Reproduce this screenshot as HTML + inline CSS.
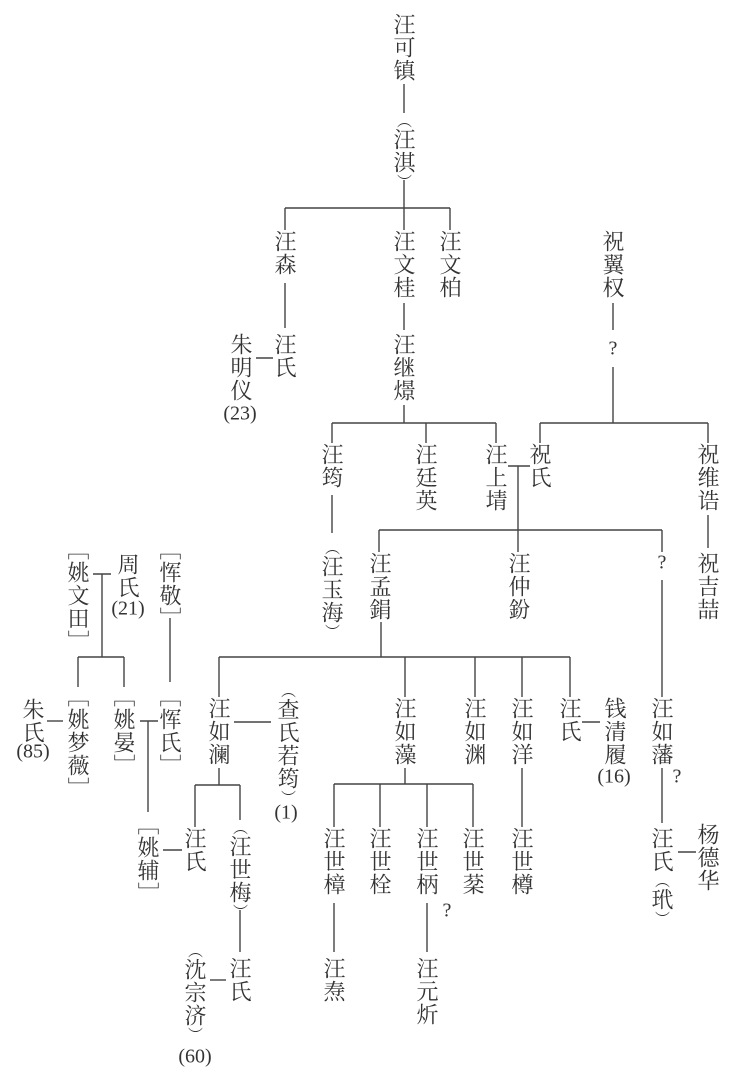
<!DOCTYPE html>
<html><head><meta charset="utf-8">
<style>
html,body{margin:0;padding:0;background:#fff;}
#c{position:relative;width:730px;height:1087px;overflow:hidden;background:#fff;}
.v{position:absolute;writing-mode:vertical-rl;font-family:"Noto Serif CJK SC","Noto Sans CJK SC",serif;font-size:22px;letter-spacing:1px;line-height:30px;width:30px;margin-left:-15px;color:#333;white-space:nowrap;}
.p{font-size:15px;letter-spacing:0;}
.h{position:absolute;font-family:"Liberation Serif",serif;font-size:20px;color:#333;transform:translate(-50%,-50%);white-space:nowrap;}
svg{position:absolute;left:0;top:0;}
</style></head><body><div id="c">
<svg width="730" height="1087" stroke="#444" stroke-width="1.4" fill="none">
<line x1="404" y1="84" x2="404" y2="113"/>
<line x1="404" y1="180" x2="404" y2="230"/>
<line x1="285" y1="208" x2="450" y2="208"/>
<line x1="285" y1="208" x2="285" y2="230"/>
<line x1="450" y1="208" x2="450" y2="230"/>
<line x1="285" y1="283" x2="285" y2="328"/>
<line x1="404" y1="303" x2="404" y2="330"/>
<line x1="256" y1="358" x2="273" y2="358"/>
<line x1="404" y1="405" x2="404" y2="423"/>
<line x1="332" y1="423" x2="496" y2="423"/>
<line x1="332" y1="423" x2="332" y2="443"/>
<line x1="426" y1="423" x2="426" y2="443"/>
<line x1="496" y1="423" x2="496" y2="443"/>
<line x1="613" y1="303" x2="613" y2="330"/>
<line x1="613" y1="367" x2="613" y2="423"/>
<line x1="540" y1="423" x2="708" y2="423"/>
<line x1="540" y1="423" x2="540" y2="443"/>
<line x1="708" y1="423" x2="708" y2="443"/>
<line x1="708" y1="515" x2="708" y2="548"/>
<line x1="508" y1="466" x2="530" y2="466"/>
<line x1="518" y1="466" x2="518" y2="552"/>
<line x1="379" y1="530" x2="662" y2="530"/>
<line x1="379" y1="530" x2="379" y2="552"/>
<line x1="662" y1="530" x2="662" y2="552"/>
<line x1="332" y1="495" x2="332" y2="533"/>
<line x1="662" y1="580" x2="662" y2="697"/>
<line x1="381" y1="622" x2="381" y2="657"/>
<line x1="219" y1="657" x2="570" y2="657"/>
<line x1="219" y1="657" x2="219" y2="697"/>
<line x1="405" y1="657" x2="405" y2="697"/>
<line x1="475" y1="657" x2="475" y2="697"/>
<line x1="522" y1="657" x2="522" y2="697"/>
<line x1="570" y1="657" x2="570" y2="697"/>
<line x1="234" y1="722" x2="271" y2="722"/>
<line x1="582" y1="722" x2="600" y2="722"/>
<line x1="93" y1="574" x2="111" y2="574"/>
<line x1="102" y1="574" x2="102" y2="657"/>
<line x1="78" y1="657" x2="124" y2="657"/>
<line x1="78" y1="657" x2="78" y2="687"/>
<line x1="124" y1="657" x2="124" y2="687"/>
<line x1="170" y1="618" x2="170" y2="682"/>
<line x1="47" y1="721" x2="63" y2="721"/>
<line x1="140" y1="721" x2="158" y2="721"/>
<line x1="148" y1="721" x2="148" y2="812"/>
<line x1="163" y1="850" x2="182" y2="850"/>
<line x1="219" y1="768" x2="219" y2="785"/>
<line x1="195" y1="785" x2="240" y2="785"/>
<line x1="195" y1="785" x2="195" y2="827"/>
<line x1="240" y1="785" x2="240" y2="820"/>
<line x1="240" y1="910" x2="240" y2="952"/>
<line x1="210" y1="980" x2="226" y2="980"/>
<line x1="405" y1="768" x2="405" y2="784"/>
<line x1="334" y1="784" x2="473" y2="784"/>
<line x1="334" y1="784" x2="334" y2="827"/>
<line x1="380" y1="784" x2="380" y2="827"/>
<line x1="427" y1="784" x2="427" y2="827"/>
<line x1="473" y1="784" x2="473" y2="827"/>
<line x1="522" y1="768" x2="522" y2="827"/>
<line x1="334" y1="903" x2="334" y2="952"/>
<line x1="427" y1="903" x2="427" y2="952"/>
<line x1="662" y1="768" x2="662" y2="823"/>
<line x1="678" y1="852" x2="696" y2="852"/>
</svg>

<div class="v" style="left:404px;top:13px">汪可镇</div>
<div class="v" style="left:404px;top:113px"><span class="p">（</span>汪淇<span class="p">）</span></div>
<div class="v" style="left:285px;top:230px">汪森</div>
<div class="v" style="left:404px;top:230px">汪文桂</div>
<div class="v" style="left:450px;top:230px">汪文柏</div>
<div class="v" style="left:613px;top:230px">祝翼权</div>
<div class="h" style="left:613px;top:349px">?</div>
<div class="v" style="left:285px;top:333px">汪氏</div>
<div class="v" style="left:241px;top:333px">朱明仪</div>
<div class="h" style="left:240px;top:414px">(23)</div>
<div class="v" style="left:404px;top:333px">汪继燝</div>

<div class="v" style="left:332px;top:443px">汪筠</div>
<div class="v" style="left:426px;top:443px">汪廷英</div>
<div class="v" style="left:496px;top:443px">汪上埥</div>
<div class="v" style="left:540px;top:443px">祝氏</div>
<div class="v" style="left:708px;top:443px">祝维诰</div>
<div class="v" style="left:332px;top:540px"><span class="p">（</span>汪玉海<span class="p">）</span></div>
<div class="v" style="left:380px;top:552px">汪孟鋗</div>
<div class="v" style="left:519px;top:552px">汪仲鈖</div>
<div class="h" style="left:662px;top:563px">?</div>
<div class="v" style="left:708px;top:552px">祝吉喆</div>

<div class="v" style="left:78px;top:538px">［姚文田］</div>
<div class="v" style="left:128px;top:553px">周氏</div>
<div class="h" style="left:128px;top:609px">(21)</div>
<div class="v" style="left:170px;top:538px">［恽敬］</div>
<div class="v" style="left:78px;top:685px">［姚梦薇］</div>
<div class="v" style="left:124px;top:685px">［姚晏］</div>
<div class="v" style="left:170px;top:685px">［恽氏］</div>
<div class="v" style="left:33px;top:698px">朱氏</div>
<div class="h" style="left:33px;top:752px">(85)</div>
<div class="v" style="left:148px;top:813px">［姚辅］</div>

<div class="v" style="left:219px;top:697px">汪如澜</div>
<div class="v" style="left:288px;top:683px"><span class="p">（</span>查氏若筠<span class="p">）</span></div>
<div class="h" style="left:286px;top:813px">(1)</div>
<div class="v" style="left:405px;top:697px">汪如藻</div>
<div class="v" style="left:475px;top:697px">汪如渊</div>
<div class="v" style="left:522px;top:697px">汪如洋</div>
<div class="v" style="left:570px;top:697px">汪氏</div>
<div class="v" style="left:615px;top:697px">钱清履</div>
<div class="h" style="left:614px;top:777px">(16)</div>
<div class="v" style="left:662px;top:697px">汪如藩</div>
<div class="h" style="left:677px;top:777px">?</div>

<div class="v" style="left:195px;top:827px">汪氏</div>
<div class="v" style="left:240px;top:820px"><span class="p">（</span>汪世梅<span class="p">）</span></div>
<div class="v" style="left:240px;top:957px">汪氏</div>
<div class="v" style="left:195px;top:943px"><span class="p">（</span>沈宗济<span class="p">）</span></div>
<div class="h" style="left:195px;top:1057px">(60)</div>
<div class="v" style="left:334px;top:827px">汪世樟</div>
<div class="v" style="left:380px;top:827px">汪世栓</div>
<div class="v" style="left:427px;top:827px">汪世柄</div>
<div class="h" style="left:447px;top:911px">?</div>
<div class="v" style="left:473px;top:827px">汪世棻</div>
<div class="v" style="left:522px;top:827px">汪世樽</div>
<div class="v" style="left:334px;top:957px">汪焘</div>
<div class="v" style="left:427px;top:957px">汪元炘</div>
<div class="v" style="left:662px;top:827px">汪氏<span class="p">（</span>玳<span class="p">）</span></div>
<div class="v" style="left:708px;top:823px">杨德华</div>
</div></body></html>
